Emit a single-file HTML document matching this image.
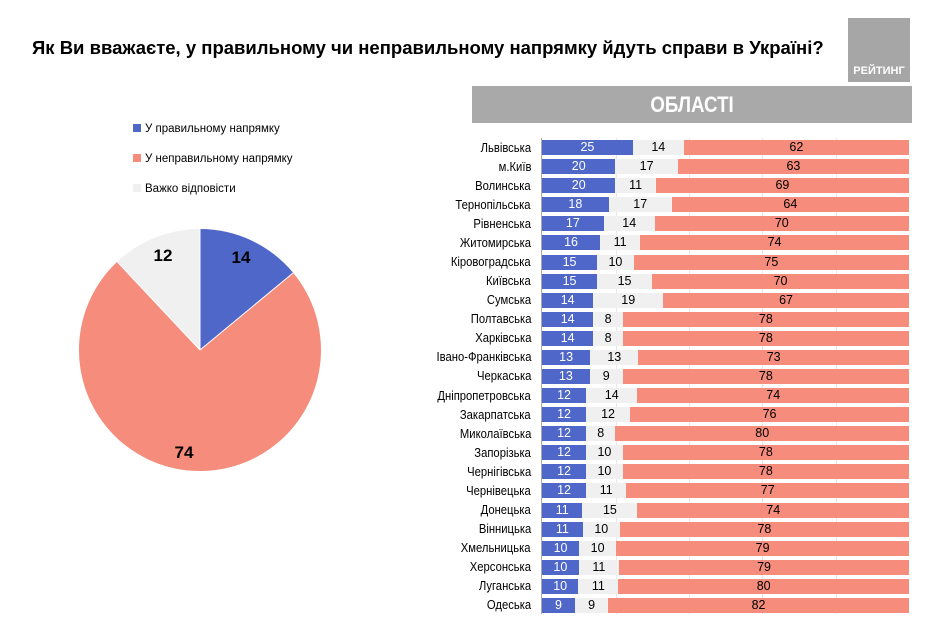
<!DOCTYPE html><html><head><meta charset="utf-8"><style>
body{margin:0;width:929px;height:622px;background:#fff;font-family:"Liberation Sans",sans-serif;position:relative;overflow:hidden}
.t{position:absolute;left:32px;top:37px;font-size:18.5px;font-weight:bold;color:#000;white-space:nowrap}
.logo{position:absolute;left:848px;top:18px;width:62px;height:64px;background:#a6a6a6}
.logo span{position:absolute;bottom:5px;left:0;right:0;text-align:center;color:#fff;font-size:11px;font-weight:bold}
.hdr{position:absolute;left:472px;top:86px;width:440px;height:37px;background:#a9a9a9;color:#fff;font-size:22px;font-weight:bold;text-align:center;line-height:37px}
.hdr span{display:inline-block;transform:scaleX(0.85)}
.leg{position:absolute;left:133px;font-size:11.5px}
.leg i{display:inline-block;width:8px;height:8px;margin-right:4px;vertical-align:0}
.rows{position:absolute;left:420px;top:138px;z-index:2}
.r{display:flex;height:19.08px;align-items:center}
.n{width:111px;text-align:right;font-size:12.5px;padding-right:11px;white-space:nowrap}
.n span{display:inline-block;transform:scaleX(0.9);transform-origin:right}
.b{display:flex;width:367px;height:15px;font-size:12.5px;line-height:15px;text-align:center}
.b div{overflow:hidden}
.u{background:#4f67c8;color:#fff}.g{background:#f0f0f0}.p{background:#f58c7c}
.ax{position:absolute;left:541px;top:138px;width:1px;height:476px;background:#aaa;z-index:3}
.gl{position:absolute;top:138px;width:1px;height:476px;background:#e8e8e8;z-index:1}
</style></head><body>
<div class="t">Як Ви вважаєте, у правильному чи неправильному напрямку йдуть справи в Україні?</div>
<div class="logo"><span>РЕЙТИНГ</span></div>
<div class="hdr"><span>ОБЛАСТІ</span></div>
<div class="leg" style="top:123px"><i style="background:#4f67c8"></i>У правильному напрямку</div>
<div class="leg" style="top:153px"><i style="background:#f58c7c"></i>У неправильному напрямку</div>
<div class="leg" style="top:183px"><i style="background:#f0f0f0"></i>Важко відповісти</div>
<svg style="position:absolute;left:0;top:0" width="929" height="622">
<path d="M200 350 L200 229 A121 121 0 0 1 293.2 272.9 Z" fill="#4f67c8"/>
<path d="M200 350 L293.2 272.9 A121 121 0 1 1 117.2 261.8 Z" fill="#f58c7c"/>
<path d="M200 350 L117.2 261.8 A121 121 0 0 1 200 229 Z" fill="#f0f0f0"/>
<line x1="200" y1="350" x2="200" y2="229" stroke="#fff"/><line x1="200" y1="350" x2="293.2" y2="272.9" stroke="#fff"/><line x1="200" y1="350" x2="117.2" y2="261.8" stroke="#fff"/>
<g font-weight="bold" font-size="17" text-anchor="middle"><text x="241" y="263" fill="#000">14</text><text x="184" y="458">74</text><text x="163" y="261">12</text></g>
</svg>
<div class="rows">
<div class="r"><div class="n"><span>Львівська</span></div><div class="b"><div class="u" style="flex:25">25</div><div class="g" style="flex:14">14</div><div class="p" style="flex:62">62</div></div></div>
<div class="r"><div class="n"><span>м.Київ</span></div><div class="b"><div class="u" style="flex:20">20</div><div class="g" style="flex:17">17</div><div class="p" style="flex:63">63</div></div></div>
<div class="r"><div class="n"><span>Волинська</span></div><div class="b"><div class="u" style="flex:20">20</div><div class="g" style="flex:11">11</div><div class="p" style="flex:69">69</div></div></div>
<div class="r"><div class="n"><span>Тернопільська</span></div><div class="b"><div class="u" style="flex:18">18</div><div class="g" style="flex:17">17</div><div class="p" style="flex:64">64</div></div></div>
<div class="r"><div class="n"><span>Рівненська</span></div><div class="b"><div class="u" style="flex:17">17</div><div class="g" style="flex:14">14</div><div class="p" style="flex:70">70</div></div></div>
<div class="r"><div class="n"><span>Житомирська</span></div><div class="b"><div class="u" style="flex:16">16</div><div class="g" style="flex:11">11</div><div class="p" style="flex:74">74</div></div></div>
<div class="r"><div class="n"><span>Кіровоградська</span></div><div class="b"><div class="u" style="flex:15">15</div><div class="g" style="flex:10">10</div><div class="p" style="flex:75">75</div></div></div>
<div class="r"><div class="n"><span>Київська</span></div><div class="b"><div class="u" style="flex:15">15</div><div class="g" style="flex:15">15</div><div class="p" style="flex:70">70</div></div></div>
<div class="r"><div class="n"><span>Сумська</span></div><div class="b"><div class="u" style="flex:14">14</div><div class="g" style="flex:19">19</div><div class="p" style="flex:67">67</div></div></div>
<div class="r"><div class="n"><span>Полтавська</span></div><div class="b"><div class="u" style="flex:14">14</div><div class="g" style="flex:8">8</div><div class="p" style="flex:78">78</div></div></div>
<div class="r"><div class="n"><span>Харківська</span></div><div class="b"><div class="u" style="flex:14">14</div><div class="g" style="flex:8">8</div><div class="p" style="flex:78">78</div></div></div>
<div class="r"><div class="n"><span>Івано-Франківська</span></div><div class="b"><div class="u" style="flex:13">13</div><div class="g" style="flex:13">13</div><div class="p" style="flex:73">73</div></div></div>
<div class="r"><div class="n"><span>Черкаська</span></div><div class="b"><div class="u" style="flex:13">13</div><div class="g" style="flex:9">9</div><div class="p" style="flex:78">78</div></div></div>
<div class="r"><div class="n"><span>Дніпропетровська</span></div><div class="b"><div class="u" style="flex:12">12</div><div class="g" style="flex:14">14</div><div class="p" style="flex:74">74</div></div></div>
<div class="r"><div class="n"><span>Закарпатська</span></div><div class="b"><div class="u" style="flex:12">12</div><div class="g" style="flex:12">12</div><div class="p" style="flex:76">76</div></div></div>
<div class="r"><div class="n"><span>Миколаївська</span></div><div class="b"><div class="u" style="flex:12">12</div><div class="g" style="flex:8">8</div><div class="p" style="flex:80">80</div></div></div>
<div class="r"><div class="n"><span>Запорізька</span></div><div class="b"><div class="u" style="flex:12">12</div><div class="g" style="flex:10">10</div><div class="p" style="flex:78">78</div></div></div>
<div class="r"><div class="n"><span>Чернігівська</span></div><div class="b"><div class="u" style="flex:12">12</div><div class="g" style="flex:10">10</div><div class="p" style="flex:78">78</div></div></div>
<div class="r"><div class="n"><span>Чернівецька</span></div><div class="b"><div class="u" style="flex:12">12</div><div class="g" style="flex:11">11</div><div class="p" style="flex:77">77</div></div></div>
<div class="r"><div class="n"><span>Донецька</span></div><div class="b"><div class="u" style="flex:11">11</div><div class="g" style="flex:15">15</div><div class="p" style="flex:74">74</div></div></div>
<div class="r"><div class="n"><span>Вінницька</span></div><div class="b"><div class="u" style="flex:11">11</div><div class="g" style="flex:10">10</div><div class="p" style="flex:78">78</div></div></div>
<div class="r"><div class="n"><span>Хмельницька</span></div><div class="b"><div class="u" style="flex:10">10</div><div class="g" style="flex:10">10</div><div class="p" style="flex:79">79</div></div></div>
<div class="r"><div class="n"><span>Херсонська</span></div><div class="b"><div class="u" style="flex:10">10</div><div class="g" style="flex:11">11</div><div class="p" style="flex:79">79</div></div></div>
<div class="r"><div class="n"><span>Луганська</span></div><div class="b"><div class="u" style="flex:10">10</div><div class="g" style="flex:11">11</div><div class="p" style="flex:80">80</div></div></div>
<div class="r"><div class="n"><span>Одеська</span></div><div class="b"><div class="u" style="flex:9">9</div><div class="g" style="flex:9">9</div><div class="p" style="flex:82">82</div></div></div>
</div>
<div class="ax"></div>
<div class="gl" style="left:616px"></div><div class="gl" style="left:689px"></div><div class="gl" style="left:762px"></div><div class="gl" style="left:836px"></div>
</body></html>
